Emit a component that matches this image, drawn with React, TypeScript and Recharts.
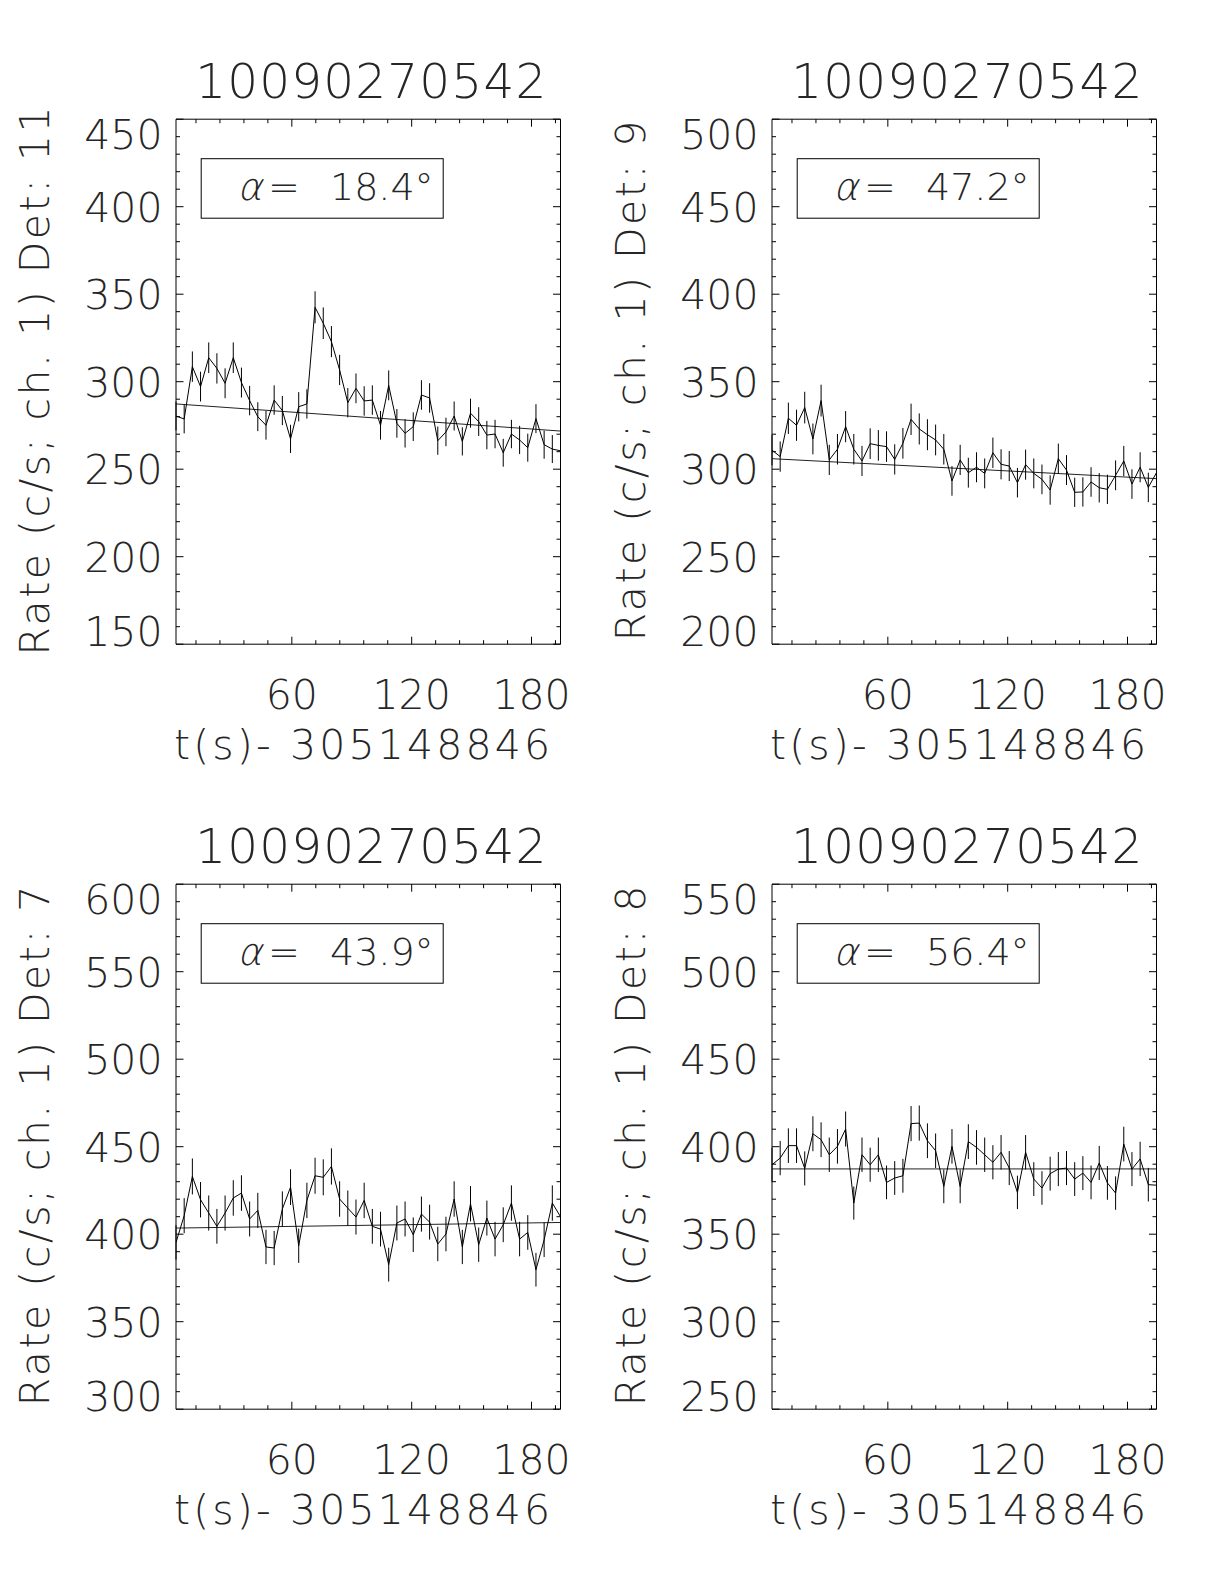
import React from 'react';
import { ComposedChart, Line, XAxis, YAxis, ErrorBar, ReferenceArea, Customized } from 'recharts';

// Light curves of burst 10090270542, channel 1, four detectors.
// Time bins are 4.096 s wide, times relative to 305148846 s.
const BURST_ID = '10090270542';
const T_REF = '305148846';
const BIN_S = 4.096;
const T_FIRST = 2.0;
const N_BINS = 48;
const binTimes = Array.from({ length: N_BINS }, (_, i) => +(T_FIRST + i * BIN_S).toFixed(3));
const T_LAST = binTimes[N_BINS - 1];

const xMinorTicks = [12, 24, 36, 48, 60, 72, 84, 96, 108, 120, 132, 144, 156, 168, 180, 192];
const xMajorTicks = [60, 120, 180];

// Count rates (c/s) per bin
const det11Rate = [
  280.4, 278.7, 308.6, 297.2, 313.7, 307.6, 299.1, 313.7, 299.5, 289.2,
  280.0, 275.1, 289.5, 283.5, 267.3, 285.7, 287.3, 342.5, 333.4, 322.9,
  306.7, 288.0, 296.2, 289.0, 289.5, 275.1, 297.9, 276.2, 270.5, 274.3,
  292.4, 290.7, 266.3, 271.3, 280.4, 265.9, 282.0, 277.2, 269.5, 270.1,
  259.4, 270.1, 266.7, 262.3, 278.9, 264.0, 261.5, 260.5,
];
const det9Rate = [
  310.9, 307.2, 329.1, 325.1, 335.2, 317.3, 339.2, 305.3, 311.4, 324.3,
  311.4, 304.7, 314.6, 313.6, 312.9, 305.6, 314.8, 328.5, 323.0, 319.7,
  316.7, 311.4, 293.3, 305.3, 298.0, 301.1, 297.6, 309.4, 302.8, 301.8,
  292.3, 302.6, 297.6, 294.2, 288.1, 306.0, 299.5, 286.8, 287.0, 292.7,
  289.4, 288.5, 296.5, 304.7, 291.5, 301.1, 289.6, 298.0,
];
const det7Rate = [
  395.3, 410.6, 433.0, 419.7, 412.1, 404.5, 412.1, 420.7, 423.5, 408.7,
  413.6, 392.7, 392.1, 414.4, 426.9, 393.4, 419.3, 433.4, 432.5, 438.7,
  420.1, 414.9, 409.8, 419.3, 404.5, 402.9, 382.6, 406.4, 408.7, 399.7,
  411.5, 406.9, 394.4, 400.1, 420.1, 392.7, 417.4, 394.0, 409.2, 397.2,
  405.4, 417.8, 397.2, 401.0, 379.7, 396.8, 417.8, 410.0,
];
const det8Rate = [
  389.7, 393.5, 400.6, 400.6, 387.6, 407.4, 404.0, 395.4, 400.2, 410.1,
  367.8, 395.4, 389.7, 395.4, 379.6, 382.1, 383.4, 413.2, 413.5, 403.4,
  397.7, 377.3, 400.2, 377.3, 402.9, 399.6, 395.4, 391.1, 396.8, 387.8,
  373.9, 396.8, 381.5, 376.4, 384.6, 387.2, 387.8, 381.5, 384.9, 379.6,
  390.7, 379.3, 373.5, 401.5, 387.2, 393.0, 378.3, 378.0,
];

// Background fit: value at first and last bin
const det11Fit = [287.3, 271.8];
const det9Fit = [306.0, 294.6];
const det7Fit = [403.5, 406.7];
const det8Fit = [387.3, 387.3];

// Labelled y ticks per detector
const det11YLabels = [150, 200, 250, 300, 350, 400, 450];
const det9YLabels = [200, 250, 300, 350, 400, 450, 500];
const det7YLabels = [300, 350, 400, 450, 500, 550, 600];
const det8YLabels = [250, 300, 350, 400, 450, 500, 550];

const detectors = ['11', '9', '7', '8'];
const alphas = ['18.4', '47.2', '43.9', '56.4'];

const panels = [
  { det: detectors[0], alpha: alphas[0], rate: det11Rate, fit: det11Fit, yLabels: det11YLabels },
  { det: detectors[1], alpha: alphas[1], rate: det9Rate, fit: det9Fit, yLabels: det9YLabels },
  { det: detectors[2], alpha: alphas[2], rate: det7Rate, fit: det7Fit, yLabels: det7YLabels },
  { det: detectors[3], alpha: alphas[3], rate: det8Rate, fit: det8Fit, yLabels: det8YLabels },
];

// Layout
const CHART_W = 596;
const CHART_H = 785;
const PLOT_L = 176;
const PLOT_T = 119.2;
const PLOT_W = 384.5;
const PLOT_H = 525;
const AXIS_T = 1; // axis band thickness (must be > 0 for ticks to render)
const MARGIN = {
  top: PLOT_T,
  left: PLOT_L - AXIS_T,
  right: CHART_W - PLOT_L - PLOT_W,
  bottom: CHART_H - PLOT_T - PLOT_H - AXIS_T,
};
const COL_DX = 595.7;
const ROW_DY = 765.3;

const FONT = '"DejaVu Sans", "Liberation Sans", sans-serif';
const FONT_W = 200;
const INK = '#262626';
const MAJOR_LEN = 7.5;
const MINOR_LEN = 4;

function makeXTick() {
  return (props: any) => {
    const { x, y, payload } = props;
    const v = payload.value;
    const major = xMajorTicks.includes(v);
    const len = major ? MAJOR_LEN : MINOR_LEN;
    const top = y - PLOT_H;
    return (
      <g>
        <line x1={x} x2={x} y1={y} y2={y - len} stroke="#000" strokeWidth={1} />
        <line x1={x} x2={x} y1={top} y2={top + len} stroke="#000" strokeWidth={1} />
        {major && (
          <text x={x} y={y + 65} textAnchor="middle" fontFamily={FONT} fontWeight={FONT_W} fontSize={41} fill={INK}>
            {v}
          </text>
        )}
      </g>
    );
  };
}

function makeYTick(labels: number[]) {
  const lo = labels[0];
  const hi = labels[labels.length - 1];
  return (props: any) => {
    const { x, y, payload } = props;
    const v = payload.value;
    const major = labels.includes(v);
    const len = major ? MAJOR_LEN : MINOR_LEN;
    const right = x + PLOT_W;
    let shift = 0;
    if (v === hi) shift = 15;
    if (v === lo) shift = -13;
    return (
      <g>
        <line x1={x} x2={x + len} y1={y} y2={y} stroke="#000" strokeWidth={1} />
        <line x1={right} x2={right - len} y1={y} y2={y} stroke="#000" strokeWidth={1} />
        {major && (
          <text x={x - 13.5} y={y + 15 + shift} textAnchor="end" fontFamily={FONT} fontWeight={FONT_W} fontSize={41} fill={INK}>
            {v}
          </text>
        )}
      </g>
    );
  };
}

function Annotations({ det, alpha }: { det: string; alpha: string }) {
  const cx = PLOT_L + PLOT_W / 2;
  const yTitleX = 49.5;
  const yTitleY = PLOT_T + PLOT_H / 2 - 2;
  const legY = PLOT_T + 81;
  const alphaX = PLOT_L + 61;
  return (
    <g fontFamily={FONT} fontWeight={FONT_W} fill={INK}>
      <text x={cx + 2.5} y={98} textAnchor="middle" fontSize={48.5} textLength={351} lengthAdjust="spacing">
        {BURST_ID}
      </text>
      <text
        x={yTitleX}
        y={yTitleY}
        textAnchor="middle"
        fontSize={41}
        letterSpacing={2.5}
        transform={`rotate(-90, ${yTitleX}, ${yTitleY})`}
      >
        {`Rate (c/s; ch. 1) Det: ${det}`}
      </text>
      <text x={PLOT_L + 186} y={PLOT_T + PLOT_H + 115} textAnchor="middle" fontSize={41} textLength={376} lengthAdjust="spacing">
        {`t(s)- ${T_REF}`}
      </text>
      <rect x={PLOT_L + 25.2} y={PLOT_T + 39.5} width={242} height={59.5} fill="none" stroke="#000" strokeWidth={1} />
      <text
        x={alphaX}
        y={legY}
        fontSize={38}
        transform={`translate(${alphaX}, ${legY}) skewX(-14) translate(${-alphaX}, ${-legY})`}
      >
        α
      </text>
      <text x={PLOT_L + 92} y={legY} fontSize={38}>=</text>
      <text x={PLOT_L + 154} y={legY} fontSize={38}>{`${alpha}°`}</text>
    </g>
  );
}

function Panel({ cfg }: { cfg: (typeof panels)[number] }) {
  const data = binTimes.map((t, i) => ({
    t,
    rate: cfg.rate[i],
    // Poisson uncertainty of the rate in a 4.096 s bin
    err: Math.sqrt(cfg.rate[i] / BIN_S),
  }));
  const fitData = [
    { t: T_FIRST, fit: cfg.fit[0] },
    { t: T_LAST, fit: cfg.fit[1] },
  ];
  const lo = cfg.yLabels[0];
  const hi = cfg.yLabels[cfg.yLabels.length - 1];
  const yTicks: number[] = [];
  for (let v = lo; v <= hi; v += 10) yTicks.push(v);

  return (
    <ComposedChart width={CHART_W} height={CHART_H} margin={MARGIN} data={data}>
      <XAxis
        dataKey="t"
        type="number"
        domain={[T_FIRST, T_LAST]}
        allowDataOverflow
        ticks={xMinorTicks}
        interval={0}
        height={AXIS_T}
        tickSize={0}
        tickMargin={0}
        tickLine={false}
        axisLine={false}
        tick={makeXTick()}
      />
      <YAxis
        type="number"
        domain={[lo, hi]}
        allowDataOverflow
        ticks={yTicks}
        interval={0}
        width={AXIS_T}
        tickSize={0}
        tickMargin={0}
        tickLine={false}
        axisLine={false}
        tick={makeYTick(cfg.yLabels)}
      />
      <ReferenceArea x1={T_FIRST} x2={T_LAST} y1={lo} y2={hi} fill="none" stroke="#000" strokeWidth={1} ifOverflow="visible" />
      <Line
        data={fitData}
        dataKey="fit"
        type="linear"
        stroke="#222"
        strokeWidth={1}
        dot={false}
        activeDot={false}
        isAnimationActive={false}
      />
      <Line
        dataKey="rate"
        type="linear"
        stroke="#000"
        strokeWidth={1}
        dot={false}
        activeDot={false}
        isAnimationActive={false}
      >
        <ErrorBar dataKey="err" direction="y" width={0} stroke="#000" strokeWidth={1} isAnimationActive={false} />
      </Line>
      <Customized component={<Annotations det={cfg.det} alpha={cfg.alpha} />} />
    </ComposedChart>
  );
}

export default function App() {
  return (
    <div style={{ position: 'absolute', left: 0, top: 0, width: 1224, height: 1584, background: '#fff' }}>
      {panels.map((cfg, i) => (
        <div
          key={cfg.det}
          style={{ position: 'absolute', left: (i % 2) * COL_DX, top: Math.floor(i / 2) * ROW_DY, width: CHART_W, height: CHART_H }}
        >
          <Panel cfg={cfg} />
        </div>
      ))}
    </div>
  );
}
